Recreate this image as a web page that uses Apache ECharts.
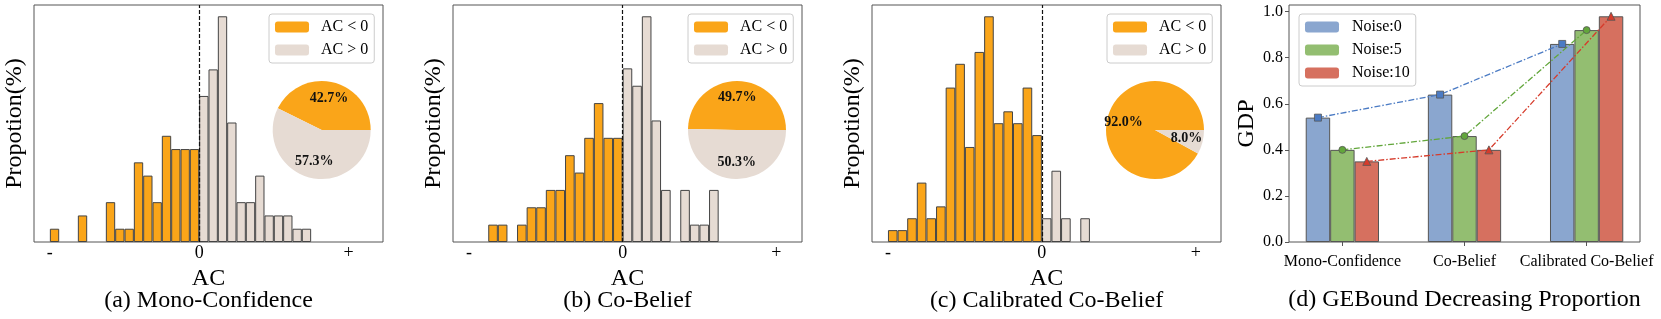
<!DOCTYPE html>
<html><head><meta charset="utf-8">
<script src="https://cdn.jsdelivr.net/npm/echarts@6/dist/echarts.min.js"></script>
<style>html,body{margin:0;padding:0;background:#fff}#c{width:1661px;height:319px}</style>
</head><body><div id="c"></div>
<script>
// ---------- data ----------
// histogram counts per bin (bin width = 1 unit); negative bins start at -16, positive bins start at 0
const monoNegCounts = [1,0,0,2,0,0,3,1,1,6,5,3,8,7,7,7];
const monoPosCounts = [11,13,17,9,3,3,5,2,2,2,1,1];
const cobNegCounts  = [0,0,1,1,0,1,2,2,3,3,5,4,6,8,6,6];
const cobPosCounts  = [10,9,13,7,3,0,3,1,1,3];
const calNegCounts  = [1,1,2,5,2,3,13,15,8,16,19,10,11,10,13,9];
const calPosCounts  = [2,6,2,0,2];
const negStartBin = -16;
const monoPie = [42.7, 57.3];
const cobPie  = [49.7, 50.3];
const calPie  = [92.0, 8.0];
const pieNames = ['AC < 0', 'AC > 0'];
const histTicks = [-16, 0, 16];
const histTickLabels = ['-', '0', '+'];
const histTitles = ['(a) Mono-Confidence', '(b) Co-Belief', '(c) Calibrated Co-Belief'];
const methods = ['Mono-Confidence', 'Co-Belief', 'Calibrated Co-Belief'];
const noiseNames = ['Noise:0', 'Noise:5', 'Noise:10'];
const gdpNoise0  = [0.54, 0.64, 0.86];
const gdpNoise5  = [0.40, 0.46, 0.92];
const gdpNoise10 = [0.35, 0.40, 0.98];
const gdpTitle = '(d) GEBound Decreasing Proportion';

// ---------- styling / layout ----------
const FONT = '"Liberation Serif","Times New Roman",serif';
const ORANGE = '#FAA519', GREY = '#E6DBD3', EDGE = '#444', FRAME = '#555';
const BAR_COLORS = ['#8AA6CF', '#93BE71', '#D6705F'];
const LINE_COLORS = ['#4B7BC4', '#62A63B', '#D63B2B'];
const SYMBOLS = ['rect', 'circle', 'triangle'];
const GRID_TOP = 5, GRID_H = 237, GRID_W = 349;

const panels = [
  {neg: monoNegCounts, pos: monoPosCounts, pie: monoPie, left: 34,  xmin: -17.7,  xmax: 19.7,  pieC: [321.7, 130], legLeft: 269},
  {neg: cobNegCounts,  pos: cobPosCounts,  pie: cobPie,  left: 453, xmin: -17.67, xmax: 18.68, pieC: [737, 130],   legLeft: 688},
  {neg: calNegCounts,  pos: calPosCounts,  pie: calPie,  left: 872, xmin: -17.66, xmax: 18.63, pieC: [1155, 130],  legLeft: 1107}
];

const grid = [], xAxis = [], yAxis = [], series = [], legend = [], graphic = [];

const legendCommon = {
  orient: 'vertical', top: 14, itemWidth: 34, itemHeight: 11, itemGap: 7,
  padding: [5, 6, 5, 6], borderColor: '#ccc', borderWidth: 1, borderRadius: 3,
  backgroundColor: 'rgba(255,255,255,0.85)',
  itemStyle: {borderWidth: 0},
  textStyle: {fontFamily: FONT, fontSize: 16, color: '#000', lineHeight: 16, padding: [0, 0, 0, 7]},
  selectedMode: false
};

panels.forEach((p, k) => {
  const ymax = Math.max(...p.neg, ...p.pos) * 1.05;
  grid.push({left: p.left, top: GRID_TOP, width: GRID_W, height: GRID_H, show: true,
             borderColor: FRAME, borderWidth: 1, backgroundColor: 'transparent'});
  xAxis.push({type: 'value', gridIndex: k, min: p.xmin, max: p.xmax,
    name: 'AC', nameLocation: 'middle', nameGap: 23,
    nameTextStyle: {fontFamily: FONT, fontSize: 24, color: '#000'},
    axisLine: {show: false, onZero: false}, axisTick: {show: false}, splitLine: {show: false},
    axisLabel: {customValues: histTicks, margin: 2, fontFamily: FONT, fontSize: 18, color: '#000',
      formatter: v => histTickLabels[histTicks.indexOf(v)]}});
  yAxis.push({type: 'value', gridIndex: k, min: 0, max: ymax,
    name: 'Propotion(%)', nameLocation: 'middle', nameGap: 7,
    nameTextStyle: {fontFamily: FONT, fontSize: 24, color: '#000'},
    axisLine: {show: false, onZero: false}, axisTick: {show: false}, axisLabel: {show: false}, splitLine: {show: false}});
  const negData = p.neg.map((c, i) => [negStartBin + i + 0.5, c]).filter(d => d[1] > 0);
  const posData = p.pos.map((c, i) => [i + 0.5, c]).filter(d => d[1] > 0);
  series.push({type: 'bar', name: pieNames[0], xAxisIndex: k, yAxisIndex: k, data: negData,
    barWidth: '100%', barGap: '-100%',
    itemStyle: {color: ORANGE, borderColor: EDGE, borderWidth: 1}, silent: true,
    markLine: {silent: true, symbol: ['none', 'none'], label: {show: false},
      lineStyle: {type: [4, 2], color: '#111', width: 1.2}, data: [{xAxis: 0}]}});
  series.push({type: 'bar', name: pieNames[1], xAxisIndex: k, yAxisIndex: k, data: posData,
    barWidth: '100%', barGap: '-100%',
    itemStyle: {color: GREY, borderColor: EDGE, borderWidth: 1}, silent: true});
  const pieData = p.pie.map((v, i) => ({name: pieNames[i], value: v, itemStyle: {color: i === 0 ? ORANGE : GREY}}));
  series.push({type: 'pie', center: p.pieC, radius: 49, startAngle: 0, clockwise: false,
    silent: true, label: {show: false}, labelLine: {show: false},
    itemStyle: {borderWidth: 0}, data: pieData});
  // label layer placed at 0.6 of the pie radius (matplotlib autopct position)
  series.push({type: 'pie', center: p.pieC, radius: 49 * 1.2, startAngle: 0, clockwise: false,
    silent: true, z: 5, labelLine: {show: false}, avoidLabelOverlap: false,
    itemStyle: {color: 'rgba(0,0,0,0)', borderWidth: 0},
    label: {show: true, position: 'inside', fontFamily: FONT, fontSize: 14, fontWeight: 'bold', color: '#111',
      formatter: d => d.value.toFixed(1) + '%'},
    data: p.pie.map((v, i) => ({name: pieNames[i] + ' ', value: v}))});
  legend.push(Object.assign({}, legendCommon, {left: p.legLeft, data: pieNames}));
  graphic.push({type: 'text', x: p.left + GRID_W / 2, y: 301,
    style: {text: histTitles[k], fontFamily: FONT, fontSize: 24, fill: '#000',
      align: 'center', verticalAlign: 'middle', textAlign: 'center', textVerticalAlign: 'middle'}});
});

// ---------- panel (d) ----------
const D = 3, dLeft = 1289, dW = 351;
grid.push({left: dLeft, top: GRID_TOP, width: dW, height: GRID_H, show: true,
           borderColor: FRAME, borderWidth: 1, backgroundColor: 'transparent'});
const catIdx = methods.map((m, i) => i);
xAxis.push({type: 'value', gridIndex: D, min: -0.437, max: 2.437,
  axisLine: {show: false, onZero: false}, splitLine: {show: false},
  axisTick: {show: true, customValues: catIdx, length: 4, lineStyle: {color: FRAME}},
  axisLabel: {customValues: catIdx, margin: 12, fontFamily: FONT, fontSize: 16, color: '#000',
    formatter: v => methods[Math.round(v)]}});
yAxis.push({type: 'value', gridIndex: D, min: 0, max: 1.029, interval: 0.2,
  name: 'GDP', nameLocation: 'middle', nameGap: 29,
  nameTextStyle: {fontFamily: FONT, fontSize: 24, color: '#000'},
  axisLine: {show: false, onZero: false}, splitLine: {show: false},
  axisTick: {show: true, length: 4, lineStyle: {color: FRAME}},
  axisLabel: {margin: 6, fontFamily: FONT, fontSize: 16, color: '#000', formatter: v => v.toFixed(1)}});
const gdp = [gdpNoise0, gdpNoise5, gdpNoise10];
const barFrac = 0.2;
gdp.forEach((vals, s) => {
  series.push({type: 'bar', name: noiseNames[s], xAxisIndex: D, yAxisIndex: D,
    data: vals.map((v, i) => [i, v]), barWidth: (barFrac * 100) + '%', barGap: '0%', silent: true,
    itemStyle: {color: BAR_COLORS[s], borderColor: '#555', borderWidth: 1}});
});
gdp.forEach((vals, s) => {
  series.push({type: 'line', name: noiseNames[s] + ' ', xAxisIndex: D, yAxisIndex: D, z: 4, silent: true,
    data: vals.map((v, i) => [i + (s - 1) * barFrac, v]),
    symbol: SYMBOLS[s], symbolSize: s === 2 ? 8 : 7,
    itemStyle: {color: LINE_COLORS[s], borderColor: '#555', borderWidth: 0.8},
    lineStyle: {color: LINE_COLORS[s], width: 1.3, type: [6, 2, 1.5, 2]}});
});
legend.push(Object.assign({}, legendCommon, {left: 1299, data: noiseNames,
  textStyle: Object.assign({}, legendCommon.textStyle, {padding: [0, 0, 0, 8]})}));
graphic.push({type: 'text', x: dLeft + dW / 2, y: 300,
  style: {text: gdpTitle, fontFamily: FONT, fontSize: 24, fill: '#000',
    align: 'center', verticalAlign: 'middle', textAlign: 'center', textVerticalAlign: 'middle'}});

const chart = echarts.init(document.getElementById('c'), null, {renderer: 'canvas'});
chart.setOption({animation: false, backgroundColor: '#fff', grid, xAxis, yAxis, series, legend, graphic});
</script></body></html>
